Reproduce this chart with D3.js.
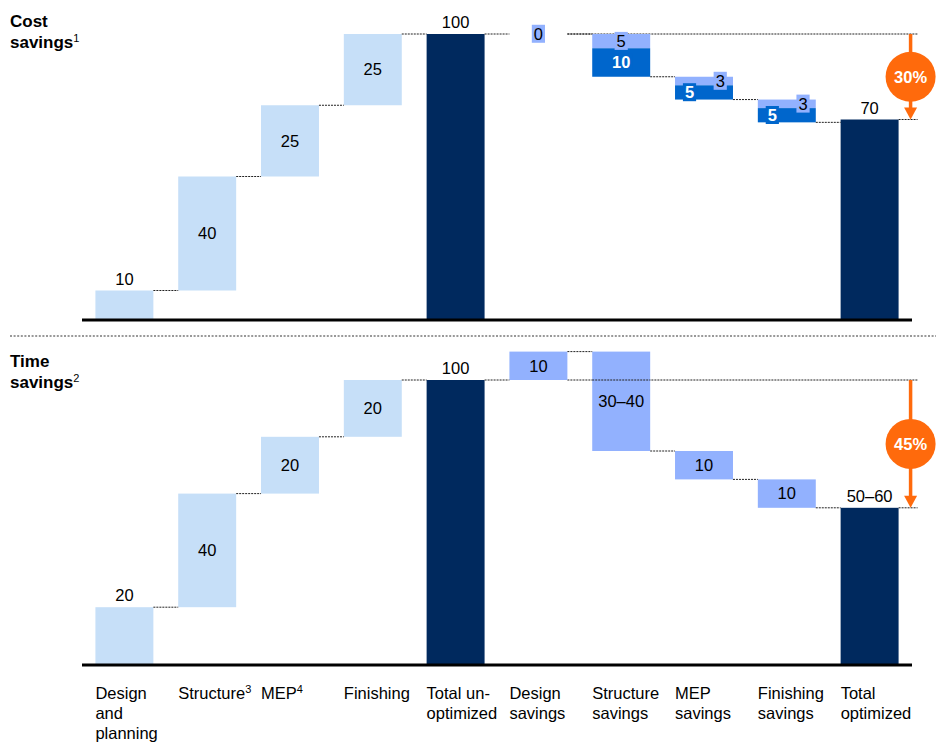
<!DOCTYPE html>
<html>
  <head>
    <meta http-equiv="Content-type" content="text/html; charset=utf-8">
    <title>Cost and time savings waterfall</title>
    <script src="https://d3js.org/d3.v7.min.js"></script>
    <style>
      body { margin: 0; background: #fff; }
    </style>
  </head>
  <body>
    <div id="chart"></div>
    <script type="text/javascript">
      // categories along the bottom, shared by both panels
      var categories = ['Design and planning', 'Structure', 'MEP', 'Finishing', 'Total un-optimized',
        'Design savings', 'Structure savings', 'MEP savings', 'Finishing savings', 'Total optimized'];
      var tickLines = [['Design', 'and', 'planning'], ['Structure'], ['MEP'], ['Finishing'], ['Total un-', 'optimized'],
        ['Design', 'savings'], ['Structure', 'savings'], ['MEP', 'savings'], ['Finishing', 'savings'], ['Total', 'optimized']];
      var tickNotes = ['', '3', '4', '', '', '', '', '', '', ''];

      // cost panel
      var costBuild = [10, 40, 25, 25];
      var costTotals = [100, 70];
      var costSavingsLight = [0, 5, 3, 3];
      var costSavingsDark = [0, 10, 5, 5];

      // time panel (negative saving = adds time)
      var timeBuild = [20, 40, 20, 20];
      var timeTotals = [100, 55];
      var timeTotalLabels = ['100', '50–60'];
      var timeSavings = [-10, 35, 10, 10];
      var timeSavingLabels = ['10', '30–40', '10', '10'];

      var panelTitles = [['Cost', '1'], ['Time', '2']];
      var reductionLabels = ['30%', '45%'];

      (function(d3) {
        'use strict';

        var width = 941;
        var height = 742;
        var LIGHT = '#c6dff8';
        var PERI = '#92b1fe';
        var MID = '#0066cc';
        var NAVY = '#00295e';
        var ORANGE = '#ff6a0c';
        var font = '"Liberation Sans", Arial, sans-serif';

        var svg = d3.select('#chart')
          .append('svg')
          .attr('width', width)
          .attr('height', height)
          .style('font-family', font);

        var x = d3.scaleBand()
          .domain(categories)
          .range([82, 912])
          .paddingInner(0.3)
          .paddingOuter(0.162);
        var bw = x.bandwidth();

        var panels = [
          { y: d3.scaleLinear().domain([0, 100]).range([319, 34]), titleY: 27 },
          { y: d3.scaleLinear().domain([0, 100]).range([664, 380]), titleY: 367 }
        ];

        function costSegments(y) {
          var segs = [], levels = [], level = 0;
          costBuild.forEach(function(v, i) {
            segs.push({ cat: categories[i], from: level, to: level + v, fill: LIGHT, label: String(v), place: i === 0 ? 'above' : 'mid' });
            level += v; levels.push(level);
          });
          segs.push({ cat: categories[4], from: 0, to: costTotals[0], fill: NAVY, label: String(costTotals[0]), place: 'above' });
          level = costTotals[0]; levels.push(level);
          costSavingsLight.forEach(function(v, i) {
            var d = costSavingsDark[i];
            var cat = categories[5 + i];
            if (v + d === 0) {
              segs.push({ cat: cat, from: level, to: level, fill: PERI, label: '0', place: 'mid', box: true });
            } else {
              var thin = y(level - v - d) - y(level - v) < 20;
              segs.push({ cat: cat, from: level, to: level - v, fill: PERI, label: String(v), place: thin ? 'right' : 'mid', box: true });
              segs.push({ cat: cat, from: level - v, to: level - v - d, fill: MID, label: String(d), place: thin ? 'left' : 'mid', box: true, white: true });
            }
            level -= v + d; levels.push(level);
          });
          segs.push({ cat: categories[9], from: 0, to: costTotals[1], fill: NAVY, label: String(costTotals[1]), place: 'above' });
          return { segs: segs, levels: levels, totals: costTotals };
        }

        function timeSegments() {
          var segs = [], levels = [], level = 0;
          timeBuild.forEach(function(v, i) {
            segs.push({ cat: categories[i], from: level, to: level + v, fill: LIGHT, label: String(v), place: i === 0 ? 'above' : 'mid' });
            level += v; levels.push(level);
          });
          segs.push({ cat: categories[4], from: 0, to: timeTotals[0], fill: NAVY, label: timeTotalLabels[0], place: 'above' });
          level = timeTotals[0]; levels.push(level);
          timeSavings.forEach(function(v, i) {
            segs.push({ cat: categories[5 + i], from: level, to: level - v, fill: PERI, label: timeSavingLabels[i], place: 'mid' });
            level -= v; levels.push(level);
          });
          segs.push({ cat: categories[9], from: 0, to: timeTotals[1], fill: NAVY, label: timeTotalLabels[1], place: 'above' });
          return { segs: segs, levels: levels, totals: timeTotals };
        }

        function dashed(g, x1, x2, yy) {
          return g.append('line')
            .attr('x1', x1).attr('x2', x2)
            .attr('y1', yy).attr('y2', yy)
            .attr('stroke', '#222')
            .attr('stroke-width', 1)
            .attr('stroke-dasharray', '2,1');
        }

        function drawPanel(p, data, pi) {
          var y = p.y;
          var g = svg.append('g');
          var ax = x(categories[9]) + bw + 12;
          var refs = [[x(categories[5]) + bw, data.totals[0]], [x(categories[9]) + bw, data.totals[1]]];

          // reference lines for the arrow (under the bars)
          refs.forEach(function(r) { dashed(g, r[0], ax + 7, y(r[1])); });

          // bars
          var shown = data.segs.filter(function(d) { return d.from !== d.to; });
          g.selectAll('rect.bar')
            .data(shown)
            .enter()
            .append('rect')
            .attr('class', 'bar')
            .attr('x', function(d) { return x(d.cat); })
            .attr('y', function(d) { return Math.min(y(d.from), y(d.to)); })
            .attr('width', bw)
            .attr('height', function(d) { return Math.abs(y(d.from) - y(d.to)); })
            .attr('fill', function(d) { return d.fill; });

          // reference line stays visible across bars it cuts through
          shown.forEach(function(d) {
            var lo = Math.min(d.from, d.to), hi = Math.max(d.from, d.to);
            if (x(d.cat) > refs[0][0] && lo < data.totals[0] && hi > data.totals[0]) {
              dashed(g, x(d.cat), x(d.cat) + bw, y(data.totals[0]));
            }
          });

          // connectors between bars
          data.levels.slice(0, 9).forEach(function(l, i) {
            dashed(g, x(categories[i]) + bw, x(categories[i + 1]), y(l));
          });

          // baseline
          g.append('line')
            .attr('x1', 82).attr('x2', 912)
            .attr('y1', y(0) + 1).attr('y2', y(0) + 1)
            .attr('stroke', '#000')
            .attr('stroke-width', 3);

          // value labels
          data.segs.forEach(function(d) {
            var cx = x(d.cat) + bw / 2;
            if (d.place === 'left') cx = x(d.cat) + bw * 0.25;
            if (d.place === 'right') cx = x(d.cat) + bw * 0.78;
            var cy = (y(d.from) + y(d.to)) / 2;
            var t = g.append('text')
              .attr('x', cx)
              .attr('text-anchor', 'middle')
              .style('font-size', '16.5px')
              .style('font-weight', d.white ? 'bold' : 'normal')
              .attr('fill', d.white ? '#fff' : '#000')
              .text(d.label);
            if (d.place === 'above') {
              t.attr('y', y(d.to) - 6);
            } else {
              t.attr('y', cy).attr('dy', '0.35em');
            }
            if (d.box) {
              var bb = t.node().getBBox();
              g.insert('rect', function() { return t.node(); })
                .attr('x', bb.x - 2)
                .attr('y', bb.y)
                .attr('width', bb.width + 4)
                .attr('height', bb.height)
                .attr('fill', d.fill);
            }
          });

          // orange reduction arrow
          var yA = y(data.totals[0]);
          var yB = y(data.totals[1]);
          g.append('line')
            .attr('x1', ax).attr('x2', ax)
            .attr('y1', yA).attr('y2', yB - 11)
            .attr('stroke', ORANGE)
            .attr('stroke-width', 3.5);
          g.append('path')
            .attr('d', 'M' + (ax - 6.5) + ',' + (yB - 12) + 'L' + (ax + 6.5) + ',' + (yB - 12) + 'L' + ax + ',' + yB + 'Z')
            .attr('fill', ORANGE);
          g.append('circle')
            .attr('cx', ax)
            .attr('cy', (yA + yB) / 2)
            .attr('r', 25)
            .attr('fill', ORANGE);
          g.append('text')
            .attr('x', ax)
            .attr('y', (yA + yB) / 2)
            .attr('dy', '0.36em')
            .attr('text-anchor', 'middle')
            .attr('fill', '#fff')
            .style('font-size', '16.5px')
            .style('font-weight', 'bold')
            .text(reductionLabels[pi]);

          // panel title
          var title = g.append('text')
            .attr('x', 10)
            .attr('y', p.titleY)
            .style('font-size', '17px')
            .style('font-weight', 'bold')
            .attr('fill', '#000');
          title.append('tspan').text(panelTitles[pi][0]);
          title.append('tspan').attr('x', 10).attr('dy', 21).text('savings');
          title.append('tspan')
            .attr('dy', -6)
            .style('font-size', '11px')
            .style('font-weight', 'normal')
            .text(panelTitles[pi][1]);
        }

        drawPanel(panels[0], costSegments(panels[0].y), 0);
        drawPanel(panels[1], timeSegments(), 1);

        // dotted separator between the panels
        svg.append('line')
          .attr('x1', 10).attr('x2', 936)
          .attr('y1', 336).attr('y2', 336)
          .attr('stroke', '#999')
          .attr('stroke-width', 2)
          .attr('stroke-dasharray', '2,1.6');

        // category labels
        var ticks = svg.selectAll('text.tick')
          .data(categories)
          .enter()
          .append('text')
          .attr('class', 'tick')
          .attr('x', function(d) { return x(d); })
          .attr('y', 699)
          .style('font-size', '16.5px')
          .attr('fill', '#000');
        ticks.each(function(d, i) {
          var t = d3.select(this);
          tickLines[i].forEach(function(line, j) {
            t.append('tspan')
              .attr('x', x(d))
              .attr('dy', j === 0 ? 0 : 20)
              .text(line);
            if (j === 0 && tickNotes[i]) {
              t.append('tspan')
                .attr('dy', -6)
                .style('font-size', '11px')
                .text(tickNotes[i]);
              t.append('tspan').attr('dy', 6).text('');
            }
          });
        });
      })(window.d3);
    </script>
  </body>
</html>
